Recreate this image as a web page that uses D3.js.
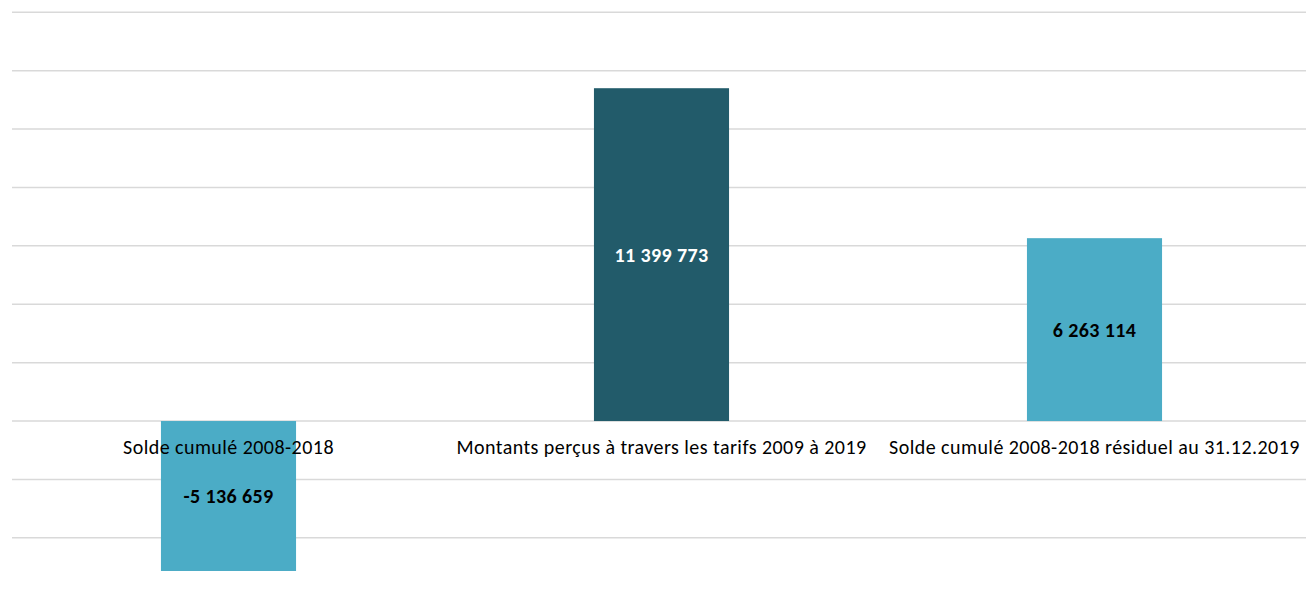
<!DOCTYPE html>
<html><head><meta charset="utf-8">
<script src="https://cdn.jsdelivr.net/npm/d3@7"></script>
<style>html,body{margin:0;padding:0;background:#fff;}svg{display:block;}</style>
</head><body>
<svg id="chart" width="1306" height="589"></svg>
<script>
const categories = ["Solde cumulé 2008-2018", "Montants perçus à travers les tarifs 2009 à 2019", "Solde cumulé 2008-2018 résiduel au 31.12.2019"];
const values = [-5136659, 11399773, 6263114];
const valueLabels = ["-5 136 659", "11 399 773", "6 263 114"];
const gridTicks = [-4000000, -2000000, 0, 2000000, 4000000, 6000000, 8000000, 10000000, 12000000, 14000000];
const barColors = ["#4BACC6", "#225B6A", "#4BACC6"];
const labelColors = ["#000000", "#FFFFFF", "#000000"];

const svg = d3.select("#chart");
const x = d3.scaleBand().domain(categories).range([12, 1311]).paddingInner(0.688).paddingOuter(0.344);
const y = d3.scaleLinear().domain([-4000000, 14000000]).range([537.8, 12.3]);

const font = "Carlito, Calibri, Lato, 'Open Sans', sans-serif";

svg.append("g").selectAll("line").data(gridTicks).join("line")
  .attr("x1", 12).attr("x2", 1306)
  .attr("y1", d => y(d)).attr("y2", d => y(d))
  .attr("stroke", "#D9D9D9").attr("stroke-width", 1.5);

svg.append("g").selectAll("rect").data(values).join("rect")
  .attr("x", (d, i) => x(categories[i]))
  .attr("width", x.bandwidth())
  .attr("y", d => Math.min(y(d), y(0)))
  .attr("height", d => Math.abs(y(d) - y(0)))
  .attr("fill", (d, i) => barColors[i]);

svg.append("g").selectAll("text").data(categories).join("text")
  .attr("x", d => x(d) + x.bandwidth() / 2)
  .attr("y", y(0) + 33)
  .attr("text-anchor", "middle")
  .attr("font-family", font).attr("font-size", 20)
  .attr("letter-spacing", 0.45)
  .attr("fill", "#000")
  .text(d => d);

svg.append("g").selectAll("text").data(values).join("text")
  .attr("x", (d, i) => x(categories[i]) + x.bandwidth() / 2)
  .attr("y", d => (y(d) + y(0)) / 2)
  .attr("dy", "0.35em")
  .attr("text-anchor", "middle")
  .attr("font-family", font).attr("font-size", 20).attr("font-weight", "bold")
  .attr("letter-spacing", 0.4)
  .attr("fill", (d, i) => labelColors[i])
  .text((d, i) => valueLabels[i]);
</script>
</body></html>
